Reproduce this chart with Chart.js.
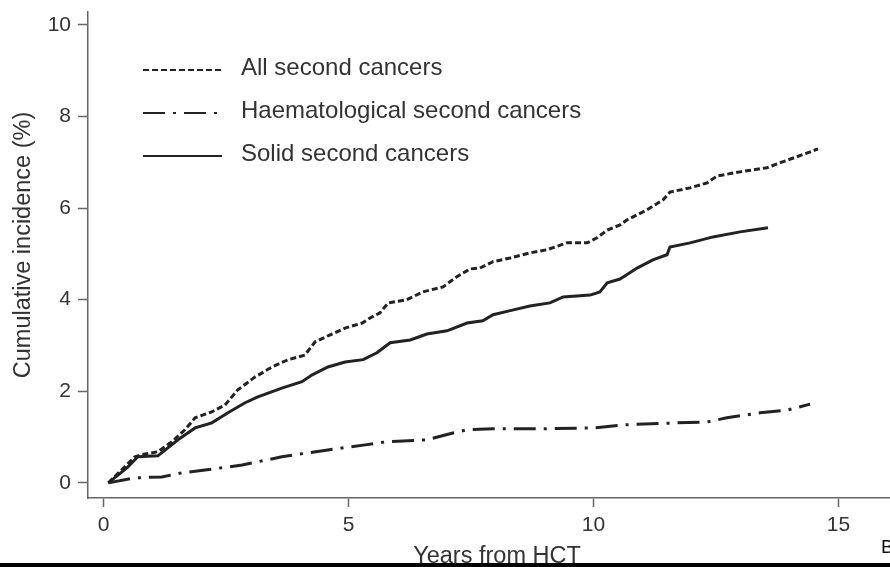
<!DOCTYPE html>
<html>
<head>
<meta charset="utf-8">
<script src="https://cdn.jsdelivr.net/npm/chart.js@4/dist/chart.umd.min.js"></script>
<style>
  html, body { margin: 0; padding: 0; background: #000; }
  #wrap { width: 890px; height: 563px; background: #fff; }
  canvas { display: block; }
</style>
</head>
<body>
<div id="wrap"><canvas id="chart-area" width="890" height="563"></canvas></div>
<script>
// tick values
const xTicks = [0, 5, 10, 15];
const yTicks = [0, 2, 4, 6, 8, 10];

// All second cancers
const allYears = [0.1, 0.64, 0.85, 1.11, 1.40, 1.66, 1.87, 2.21, 2.48, 2.74, 3.09, 3.44, 3.77, 4.11, 4.32, 4.58,
  4.93, 5.28, 5.44, 5.64, 5.81, 6.19, 6.52, 6.93, 7.21, 7.48, 7.68, 7.95, 8.30, 8.70, 9.05, 9.46, 9.87, 10.07,
  10.28, 10.54, 10.68, 11.09, 11.42, 11.56, 11.97, 12.32, 12.52, 12.99, 13.54, 13.81, 14.15, 14.58];
const allPct = [0, 0.57, 0.63, 0.68, 0.90, 1.16, 1.42, 1.55, 1.70, 2.03, 2.31, 2.53, 2.69, 2.79, 3.08, 3.21,
  3.38, 3.49, 3.60, 3.71, 3.93, 4.00, 4.17, 4.28, 4.50, 4.67, 4.69, 4.83, 4.91, 5.02, 5.09, 5.24, 5.24, 5.35,
  5.52, 5.63, 5.74, 5.96, 6.18, 6.35, 6.44, 6.55, 6.70, 6.79, 6.88, 6.99, 7.12, 7.29];

// Haematological second cancers
const haemYears = [0.1, 0.64, 1.19, 1.60, 2.07, 2.83, 3.64, 4.58, 5.34, 5.79, 6.60, 7.13, 7.42, 7.95, 8.97,
  9.99, 10.68, 11.70, 12.32, 12.72, 13.40, 13.95, 14.42];
const haemPct = [0, 0.11, 0.13, 0.22, 0.28, 0.39, 0.57, 0.72, 0.83, 0.90, 0.94, 1.09, 1.16, 1.18, 1.18,
  1.20, 1.27, 1.31, 1.33, 1.42, 1.53, 1.59, 1.72];

// Solid second cancers
const solidYears = [0.1, 0.50, 0.70, 1.11, 1.52, 1.87, 2.21, 2.54, 2.89, 3.15, 3.64, 4.05, 4.26, 4.58, 4.93,
  5.30, 5.58, 5.85, 6.26, 6.60, 7.01, 7.42, 7.74, 7.95, 8.30, 8.70, 9.11, 9.38, 9.93, 10.13, 10.28, 10.54,
  10.89, 11.21, 11.50, 11.56, 11.97, 12.44, 12.99, 13.56];
const solidPct = [0, 0.35, 0.57, 0.59, 0.94, 1.20, 1.31, 1.53, 1.75, 1.88, 2.07, 2.21, 2.36, 2.53, 2.64,
  2.69, 2.84, 3.06, 3.12, 3.25, 3.32, 3.49, 3.54, 3.67, 3.76, 3.86, 3.93, 4.06, 4.10, 4.17, 4.37, 4.45,
  4.69, 4.87, 4.98, 5.15, 5.24, 5.37, 5.48, 5.57];

const labels = ['All second cancers', 'Haematological second cancers', 'Solid second cancers'];

function toPoints(xs, ys) {
  return xs.map((x, i) => ({ x: x, y: ys[i] }));
}

const lineColor = '#222';
const axisColor = '#666';
const textColor = '#333';
const fontFam = '"Liberation Sans", Arial, Helvetica, sans-serif';

// legend, axis titles and stray panel letter
const extraText = {
  id: 'extraText',
  afterDraw(chart) {
    const ctx = chart.ctx;
    ctx.save();
    const rows = [70, 113, 156];
    chart.data.datasets.forEach((ds, i) => {
      ctx.beginPath();
      ctx.setLineDash(ds.borderDash);
      ctx.lineWidth = 2;
      ctx.strokeStyle = lineColor;
      ctx.moveTo(143, rows[i]);
      ctx.lineTo(222, rows[i]);
      ctx.stroke();
      ctx.setLineDash([]);
      ctx.fillStyle = textColor;
      ctx.font = '24px ' + fontFam;
      ctx.textBaseline = 'alphabetic';
      ctx.textAlign = 'left';
      ctx.fillText(ds.label, 241, rows[i] + 5);
    });

    ctx.font = '23.5px ' + fontFam;
    ctx.textAlign = 'center';
    ctx.textBaseline = 'middle';
    ctx.fillText('Years from HCT', 497, 557);

    ctx.save();
    ctx.translate(24, 245);
    ctx.rotate(-Math.PI / 2);
    ctx.fillText('Cumulative incidence (%)', 0, 0);
    ctx.restore();

    ctx.font = '19px ' + fontFam;
    ctx.textAlign = 'left';
    ctx.textBaseline = 'alphabetic';
    ctx.fillStyle = '#111';
    ctx.fillText('B', 881, 553);
    ctx.restore();
  }
};

const ctx = document.getElementById('chart-area').getContext('2d');
new Chart(ctx, {
  type: 'line',
  data: {
    datasets: [{
      label: labels[0],
      data: toPoints(allYears, allPct),
      borderColor: lineColor,
      borderWidth: 3,
      borderDash: [6, 3],
      pointRadius: 0,
      tension: 0
    }, {
      label: labels[1],
      data: toPoints(haemYears, haemPct),
      borderColor: lineColor,
      borderWidth: 3,
      borderDash: [22, 8, 3, 8],
      pointRadius: 0,
      tension: 0
    }, {
      label: labels[2],
      data: toPoints(solidYears, solidPct),
      borderColor: lineColor,
      borderWidth: 3,
      borderDash: [],
      pointRadius: 0,
      tension: 0
    }]
  },
  options: {
    responsive: false,
    animation: false,
    devicePixelRatio: 1,
    layout: { padding: { top: 12, left: 0, right: 0, bottom: 0 } },
    plugins: {
      legend: { display: false },
      tooltip: { enabled: false }
    },
    scales: {
      x: {
        type: 'linear',
        min: -0.316,
        max: 16.05,
        afterBuildTicks: (scale) => { scale.ticks = xTicks.map(v => ({ value: v })); },
        afterFit: (scale) => { scale.height = 65; scale.paddingLeft = 0; scale.paddingRight = 0; },
        grid: { drawOnChartArea: false, drawTicks: true, tickLength: 9, color: axisColor, tickWidth: 1.5 },
        border: { display: true, color: axisColor, width: 1.5 },
        ticks: { color: textColor, padding: 6, font: { size: 21, family: fontFam } }
      },
      y: {
        type: 'linear',
        min: -0.33,
        max: 10.28,
        afterBuildTicks: (scale) => { scale.ticks = yTicks.map(v => ({ value: v })); },
        afterFit: (scale) => { scale.width = 88; scale.paddingTop = 0; scale.paddingBottom = 0; },
        grid: { drawOnChartArea: false, drawTicks: true, tickLength: 10, color: axisColor, tickWidth: 1.5 },
        border: { display: true, color: axisColor, width: 1.5 },
        ticks: { color: textColor, padding: 7, font: { size: 21, family: fontFam } }
      }
    }
  },
  plugins: [extraText]
});
</script>
</body>
</html>
